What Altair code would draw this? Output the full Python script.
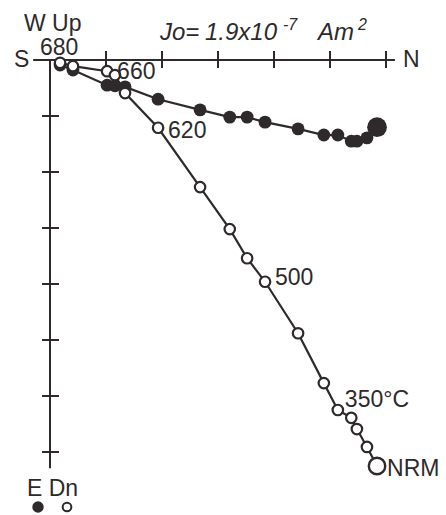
import altair as alt
import pandas as pd

# Demagnetization steps (tick units; 1 unit = one tick interval)
steps = ["680", "675", "660", "650", "640", "620", "600", "580", "560", "500",
         "450", "400", "350", "300", "250", "200", "NRM"]
north = [0.18, 0.41, 1.02, 1.16, 1.34, 1.93, 2.68, 3.21, 3.52, 3.84,
         4.43, 4.89, 5.14, 5.38, 5.48, 5.66, 5.84]
east = [0.09, 0.18, 0.45, 0.46, 0.48, 0.70, 0.89, 1.02, 1.02, 1.11,
        1.23, 1.34, 1.34, 1.45, 1.45, 1.39, 1.20]
down = [0.05, 0.11, 0.20, 0.27, 0.59, 1.21, 2.27, 3.02, 3.54, 3.96,
        4.88, 5.77, 6.25, 6.39, 6.59, 6.91, 7.25]
tick_n = [1, 2, 3, 4, 5, 6]
tick_d = [1, 2, 3, 4, 5, 6, 7]
annot = {"680": (0, -1, -8, "center"), "660": (2, 10, 8, "left"),
         "620": (5, 10, 10, "left"), "500": (9, 10, 3, "left"),
         "350°C": (12, 7, -3, "left"), "NRM": (16, 10, 10, "left")}

W, H = 446, 515
PX = 56.0
X0, Y0 = 50, 60
INK = "#2e2a2b"
FONT = "Liberation Sans"

xs = alt.Scale(domain=[-X0 / PX, (W - X0) / PX], nice=False, zero=False)
ys = alt.Scale(domain=[-Y0 / PX, (H - Y0) / PX], nice=False, zero=False, reverse=True)

df = pd.DataFrame({"i": list(range(len(steps))), "step": steps,
                   "north": north, "east": east, "down": down})
n_last = len(steps) - 1
df_main = df[df.i < n_last]
df_nrm = df[df.i == n_last]

X = lambda f: alt.X(f, type="quantitative", scale=xs, axis=None)
Y = lambda f: alt.Y(f, type="quantitative", scale=ys, axis=None)

axes_df = pd.DataFrame({"x1": [-0.30, 0.0], "x2": [6.16, 0.0],
                        "y1": [0.0, 0.0], "y2": [0.0, 7.29]})
axes = alt.Chart(axes_df).mark_rule(color=INK, strokeWidth=2).encode(
    x=X("x1"), x2="x2", y=Y("y1"), y2="y2")

tn = alt.Chart(pd.DataFrame({"t": tick_n})).mark_rule(color=INK, strokeWidth=2).encode(
    x=X("t"), y=alt.value(Y0 - 9), y2=alt.value(Y0 + 8))
td = alt.Chart(pd.DataFrame({"t": tick_d})).mark_rule(color=INK, strokeWidth=2).encode(
    y=Y("t"), x=alt.value(X0 - 8), x2=alt.value(X0 + 9))

line_h = alt.Chart(df).mark_line(color=INK, strokeWidth=2.2).encode(
    x=X("north"), y=Y("east"), order="i:Q")
line_v = alt.Chart(df).mark_line(color=INK, strokeWidth=2.2).encode(
    x=X("north"), y=Y("down"), order="i:Q")

pts_h = alt.Chart(df_main).mark_point(shape="circle", filled=True, color=INK,
                                      size=165, opacity=1).encode(x=X("north"), y=Y("east"))
pts_h_nrm = alt.Chart(df_nrm).mark_point(shape="circle", filled=True, color=INK,
                                         size=390, opacity=1).encode(x=X("north"), y=Y("east"))
pts_v = alt.Chart(df_main).mark_point(shape="circle", filled=True, fill="white",
                                      stroke=INK, strokeWidth=2.2, size=110, opacity=1).encode(
    x=X("north"), y=Y("down"))
pts_v_nrm = alt.Chart(df_nrm).mark_point(shape="circle", filled=True, fill="white",
                                         stroke=INK, strokeWidth=2.4, size=270, opacity=1).encode(
    x=X("north"), y=Y("down"))

layers = [axes, tn, td, line_h, line_v, pts_h, pts_v, pts_h_nrm, pts_v_nrm]

for txt, (idx, dx, dy, al) in annot.items():
    layers.append(alt.Chart(df[df.i == idx]).mark_text(
        text=txt, font=FONT, fontSize=23, color=INK, align=al, baseline="alphabetic",
        dx=dx, dy=dy).encode(x=X("north"), y=Y("down")))


def label(t, x, y, size=23, style="normal", al="left"):
    return alt.Chart(pd.DataFrame({"a": [0]})).mark_text(
        text=t, font=FONT, fontSize=size, fontStyle=style, color=INK,
        align=al, baseline="alphabetic").encode(x=alt.value(x), y=alt.value(y))


layers += [
    label("S", 14, 67), label("N", 403, 67),
    label("W Up", 24, 31), label("E Dn", 27, 496),
    label("Jo=", 160, 40, 24, "italic"), label("1.9x10", 205, 40, 24, "italic"),
    label("-7", 283, 30, 16, "italic"), label("Am", 318, 40, 24, "italic"),
    label("2", 358, 30, 16, "italic"),
]

legend = pd.DataFrame({"a": [0]})
layers.append(alt.Chart(legend).mark_point(shape="circle", filled=True, color=INK, size=130,
                                           opacity=1).encode(x=alt.value(38), y=alt.value(507)))
layers.append(alt.Chart(legend).mark_point(shape="circle", filled=True, fill="white", stroke=INK,
                                           strokeWidth=2, size=75, opacity=1).encode(
    x=alt.value(67), y=alt.value(507)))

chart = alt.layer(*layers).properties(
    width=W, height=H, autosize=alt.AutoSizeParams(type="none"), padding=0,
    background="white").configure_view(stroke=None)

chart.save("out.html", embed_options={"renderer": "svg", "actions": False})
